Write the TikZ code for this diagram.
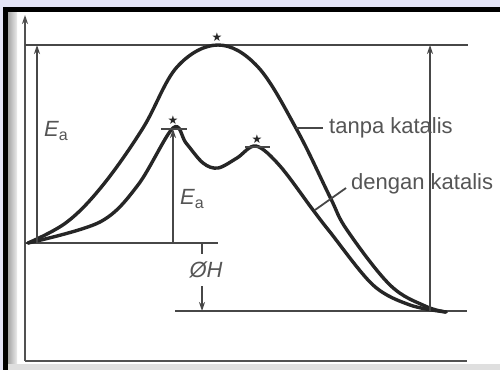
\documentclass[tikz,border=0pt]{standalone}
\usepackage{fontspec}
\setmainfont{Liberation Sans}
\newfontfamily\symfont{DejaVu Sans}
\usetikzlibrary{arrows.meta}
\definecolor{lav}{HTML}{E4E4F6}
\definecolor{txt}{HTML}{555555}
\definecolor{ink}{HTML}{262626}
\tikzset{
  curve/.style={line width=3.4pt, ink, line cap=round},
  level/.style={line width=2.2pt, ink!85},
  axis/.style={line width=2.2pt, ink!80},
  arr/.style={line width=1.6pt, ink!85, -{Stealth[length=9pt,width=6pt]}},
  lbl/.style={text=txt, font=\fontsize{22}{24}\selectfont, inner sep=0pt},
  tick/.style={line width=2.2pt, ink!85},
  star/.style={font=\symfont\fontsize{12}{12}\selectfont, inner sep=0pt, text=ink}
}
\begin{document}
\begin{tikzpicture}[x=1pt,y=-1pt]
\useasboundingbox (0,0) rectangle (500,370);
% frame
\fill[lav] (0,0) rectangle (500,370);
\fill[white] (8,12) rectangle (500,365);
\fill[black] (3,7) rectangle (500,11.5);
\fill[black] (3,7) rectangle (7.5,370);
\shade[left color=gray!70, right color=gray!15] (8,12) rectangle (17,366);
\fill[gray!25] (8,364) rectangle (500,370);
% axes
\coordinate (O) at (25,361);
\coordinate (Ytop) at (25,15);
\coordinate (Xend) at (467,361);
\draw[axis] (O) -- (Xend);
\draw[line width=1.6pt, ink!80, -{Stealth[length=9pt,width=6pt]}] (O) -- (Ytop);
% levels
\coordinate (TL) at (25,45);
\coordinate (TR) at (468,45);
\coordinate (RL) at (25,243);
\coordinate (RR) at (218,243);
\coordinate (PL) at (175,311);
\coordinate (PR) at (467,311);
\draw[level] (TL) -- (TR);
\draw[level] (RL) -- (RR);
\draw[level] (PL) -- (PR);
% uncatalysed curve
\draw[curve] plot[smooth, tension=0.6] coordinates {(28,243) (67,222) (103,185) (143,128) (177,67) (218,45) (258,67) (297,130) (330,197) (347,230) (390,285) (425,306) (446,312)};
% catalysed curve
\draw[curve] plot[smooth, tension=0.55] coordinates {(28,243) (100,222) (138,185) (173,128) (186,143) (203,163) (218,168) (237,158) (256,146) (280,166) (313,210) (330,232) (373,285) (410,305) (446,312)};
% peak ticks
\coordinate (K1a) at (161,129); \coordinate (K1b) at (187,129);
\coordinate (K2a) at (245,147); \coordinate (K2b) at (270,147);
\draw[tick] (K1a) -- (K1b);
\draw[tick] (K2a) -- (K2b);
\node[star] (s0) at (217,37) {★};
\node[star] (s1) at (173,120) {★};
\node[star] (s2) at (257,139) {★};
% Ea arrows
\coordinate (A1b) at (37,243); \coordinate (A1t) at (37,45);
\draw[arr] (A1b) -- (A1t);
\coordinate (A2b) at (173,243); \coordinate (A2t) at (173,129);
\draw[arr] (A2b) -- (A2t);
\coordinate (A3b) at (430,311); \coordinate (A3t) at (430,45);
\draw[arr] (A3b) -- (A3t);
% Delta H
\coordinate (H1) at (202,243); \coordinate (H2) at (202,254);
\draw[line width=1.6pt, ink!85] (H1) -- (H2);
\coordinate (H3) at (202,286); \coordinate (H4) at (202,311);
\draw[arr] (H3) -- (H4);
\node[lbl] (dh) at (206,270) {\itshape ØH};
% labels
\node[lbl, anchor=west] (ea1) at (44,131) {\itshape E\raisebox{-4pt}{\upshape\fontsize{16}{16}\selectfont a}};
\node[lbl, anchor=west] (ea2) at (180,199) {\itshape E\raisebox{-4pt}{\upshape\fontsize{16}{16}\selectfont a}};
\node[lbl, anchor=west] (tk) at (329,128) {tanpa katalis};
\node[lbl, anchor=west] (dk) at (351,184) {dengan katalis};
\coordinate (L1a) at (296,128); \coordinate (L1b) at (323,128);
\draw[line width=1.8pt, ink!85] (L1a) -- (L1b);
\coordinate (L2a) at (315,210); \coordinate (L2b) at (346,188);
\draw[line width=1.8pt, ink!85] (L2a) -- (L2b);
\end{tikzpicture}
\end{document}
